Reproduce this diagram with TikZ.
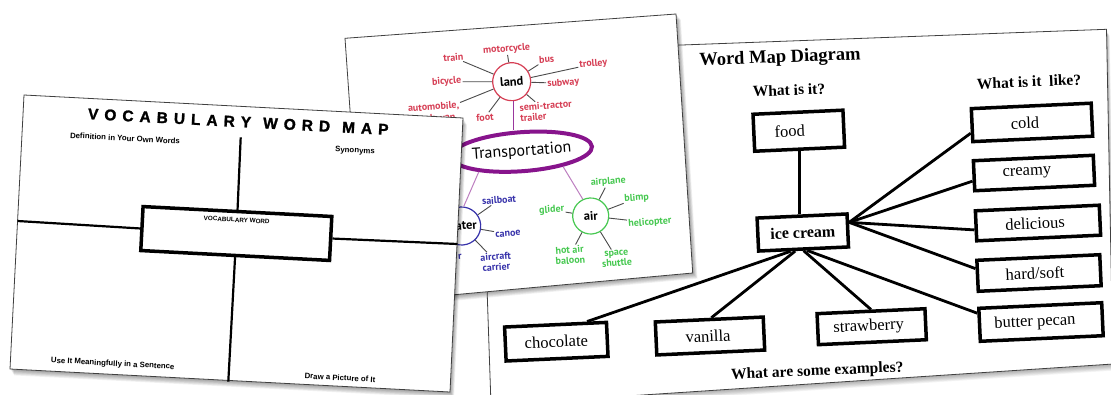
\documentclass[tikz,border=0pt]{standalone}
\usepackage{fontspec}
\setmainfont{Liberation Serif}
\newfontfamily\vfont{Liberation Sans}
\newfontfamily\vheavy[FakeBold=1.5]{Liberation Sans}
\newfontfamily\tfont{PT Sans}
\usetikzlibrary{shapes.geometric,calc}
\definecolor{landred}{RGB}{214,62,84}
\definecolor{airgreen}{RGB}{70,200,80}
\definecolor{waterblue}{RGB}{55,50,170}
\definecolor{tpurple}{RGB}{135,20,140}
\definecolor{spokegray}{RGB}{75,75,75}
\newcommand\tk{\kern6pt}
\begin{document}
\begin{tikzpicture}[x=1pt,y=-1pt,
  card/.style={fill=white, draw=black!75, line width=0.8pt},
  vline/.style={line width=2.2pt},
  vtxt/.style={font=\vfont\bfseries\fontsize{7.8}{8}\selectfont, rotate=-3, inner sep=0},
  tl/.style={font=\tfont\bfseries\fontsize{10}{10.5}\selectfont, rotate=4.2, inner sep=1pt, align=center},
  spoke/.style={draw=spokegray, line width=0.9pt},
  hub/.style={circle, line width=1.2pt, minimum size=38pt, inner sep=0, font=\tfont\bfseries\fontsize{12.5}{12}\selectfont, rotate=4.2},
  wbox/.style={draw, line width=3.5pt, rotate=2.6, inner sep=0, font=\fontsize{16.5}{17}\selectfont},
  whead/.style={font=\bfseries\fontsize{15.5}{16}\selectfont, rotate=2.4, inner sep=0},
  wline/.style={line width=2.8pt}
]
\useasboundingbox (0,0) rectangle (1111,394);
\fill[white] (0,0) rectangle (1111,394);
\clip (0,0) rectangle (1111,394);

% ---------------- Word Map Diagram card (back) ----------------
\def\wpoly{(479,52.5)--(1106.5,29.3)--(1113,364)--(491,405)--cycle}
\foreach \d in {1,...,8}{\fill[black,opacity=0.045,shift={(\d*0.4,\d*0.8)}] \wpoly;}
\path[card] \wpoly;

\node[font=\bfseries\fontsize{18.5}{19}\selectfont, rotate=2.2, inner sep=0] (wtitle) at (780,58.3) {Word Map Diagram};
\node[whead] (q1) at (789,90) {What is it?};
\node[whead] (q2) at (1029,81.7) {What is it\ \ like?};
\node[whead] (q3) at (817.3,371.7) {What are some examples?};

\node[wbox, minimum width=90pt, minimum height=37pt] (food) at (798.8,130.7) {\hspace*{-18pt}food};
\node[wbox, minimum width=90pt, minimum height=33pt, font=\bfseries\fontsize{16}{16}\selectfont] (ice) at (802.8,232.5) {ice cream};
\node[wbox, minimum width=120pt, minimum height=33pt] (cold) at (1032,122.4) {\hspace*{-14pt}cold};
\node[wbox, minimum width=120pt, minimum height=30pt] (creamy) at (1034,173) {\hspace*{-14pt}creamy};
\node[wbox, minimum width=124pt, minimum height=30pt] (delicious) at (1038,223) {\hspace*{-6pt}delicious};
\node[wbox, minimum width=123pt, minimum height=31pt] (hard) at (1039,273) {\hspace*{-8pt}hard/soft};
\node[wbox, minimum width=123pt, minimum height=33pt] (butter) at (1041,322) {\hspace*{-12pt}butter pecan};
\node[wbox, minimum width=102pt, minimum height=34pt] (choc) at (556.3,341.7) {chocolate};
\node[wbox, minimum width=108pt, minimum height=33pt] (van) at (710,336) {\hspace*{-4pt}vanilla};
\node[wbox, minimum width=108pt, minimum height=31pt] (straw) at (871.7,326.7) {\hspace*{-6pt}strawberry};

\draw[wline] (food.south) -- (food.south |- ice.north);
\coordinate (fan) at ($(ice.north east)!0.28!(ice.south east)$);
\draw[wline] (fan) -- ($(cold.north west)!0.72!(cold.south west)$);
\draw[wline] (fan) -- ($(creamy.north west)!0.66!(creamy.south west)$);
\draw[wline] (fan) -- ($(delicious.north west)!0.62!(delicious.south west)$);
\draw[wline] (fan) -- ($(hard.north west)!0.29!(hard.south west)$);
\draw[wline] ($(ice.south west)!0.54!(ice.south east)$) -- ($(butter.north west)!0.18!(butter.south west)$);
\draw[wline] ($(ice.south west)!0.36!(ice.south east)$) -- ($(choc.north west)!0.8!(choc.north east)$);
\draw[wline] ($(ice.south west)!0.41!(ice.south east)$) -- ($(van.north west)!0.52!(van.north east)$);
\draw[wline] ($(ice.south west)!0.5!(ice.south east)$) -- (straw.north);

% ---------------- Transportation card (middle) ----------------
\def\tpoly{(345,38.3)--(676,14)--(692.7,273)--(363.5,303)--cycle}
\foreach \d in {1,...,8}{\fill[black,opacity=0.05,shift={(\d*0.6,\d*0.7)}] \tpoly;}
\path[card] \tpoly;

\node[ellipse, draw=tpurple, line width=4pt, minimum width=115pt, minimum height=39pt, inner sep=0, rotate=4.2, font=\tfont\fontsize{16}{16}\selectfont] (tr) at (521.7,151.7) {Transportation};
\node[hub, draw=landred] (land) at (511.7,81.7) {land};
\node[hub, draw=airgreen, minimum size=36pt] (air) at (590.7,216) {air};
\node[hub, draw=waterblue] (water) at (461.7,226) {water};

\draw[tpurple!85, line width=1pt] (land.south) -- (land.south |- tr.north);
\draw[tpurple!55!white, line width=1pt] (tr.-24) -- (air.111);
\draw[tpurple!55!white, line width=1pt] (tr.201) -- (water.80);

\begin{scope}[every node/.append style={tl, text=landred}]
\node (train) at (453.3,57.3) {train};
\node (moto) at (506.7,49.3) {motorcycle};
\node (bus) at (546.7,59.3) {bus};
\node (trolley) at (593.3,64) {trolley};
\node (bicycle) at (446.7,81.7) {bicycle};
\node (subway) at (563.3,83.3) {subway};
\node[font=\tfont\bfseries\fontsize{10}{11.5}\selectfont] (auto) at (434,113) {automobile,\\truck, van};
\node (foot) at (485,117.3) {foot};
\node[align=left] (semi) at (546,111) {semi-tractor\\trailer};
\end{scope}
\foreach \n in {train,moto,bus,trolley,bicycle,subway,auto,foot,semi}{\draw[spoke] (land) -- (\n);}

\begin{scope}[every node/.append style={tl, text=airgreen}]
\node (airplane) at (608.3,181.7) {airplane};
\node (blimp) at (636.7,198.3) {blimp};
\node (heli) at (650,222.7) {helicopter};
\node (glider) at (551.7,210) {glider};
\node (balloon) at (570,255) {hot air\\baloon};
\node (shuttle) at (616.7,258.3) {space\\shuttle};
\end{scope}
\foreach \n in {airplane,blimp,heli,glider,balloon,shuttle}{\draw[spoke] (air) -- (\n);}

\begin{scope}[every node/.append style={tl, text=waterblue}]
\node (sail) at (499,200) {sailboat};
\node (canoe) at (508,234) {canoe};
\node (carrier) at (496,261.7) {aircraft\\carrier};
\node[anchor=east] (rword) at (463,256.5) {r};
\end{scope}
\foreach \n in {sail,canoe,carrier}{\draw[spoke] (water) -- (\n);}

% ---------------- Vocabulary card (front) ----------------
\def\vpoly{(24,95)--(463,118)--(450,392)--(10,369)--cycle}
\foreach \d in {1,...,8}{\fill[black,opacity=0.05,shift={(\d*0.5,\d*0.8)}] \vpoly;}
\path[card] \vpoly;

\node[font=\vheavy\bfseries\fontsize{15.5}{16}\selectfont, rotate=-3, inner sep=0] (vtitle) at (238.3,121.7)
  {V\tk O\tk C\tk A\tk B\tk U\tk L\tk A\tk R\tk Y\hspace{12pt}W\tk O\tk R\tk D\hspace{12pt}M\tk A\tk P};
\node[vtxt] (def) at (125,138.3) {Definition in Your Own Words};
\node[vtxt] (syn) at (355,151) {Synonyms};
\node[vtxt] (use) at (112.7,364) {Use It Meaningfully in a Sentence};
\node[vtxt] (draw) at (340,377.7) {Draw a Picture of It};

\node[draw, line width=3.5pt, minimum width=189pt, minimum height=44pt, rotate=-3, inner sep=0] (vbox) at (236.3,233.5) {};
\node[font=\vfont\bfseries\fontsize{6.3}{6}\selectfont, rotate=-3, inner sep=0] (vboxt) at (236.7,220) {VOCABULARY WORD};
\coordinate (vt) at (240.7,137.3);
\coordinate (vb) at (228.3,381.7);
\coordinate (hl) at (17.6,221);
\coordinate (hr) at (457.5,244);
\draw[vline] (vt) -- (vbox.north);
\draw[vline] (vbox.south) -- (vb);
\draw[vline] (hl) -- (vbox.west);
\draw[vline] (vbox.east) -- (hr);
\end{tikzpicture}
\end{document}
